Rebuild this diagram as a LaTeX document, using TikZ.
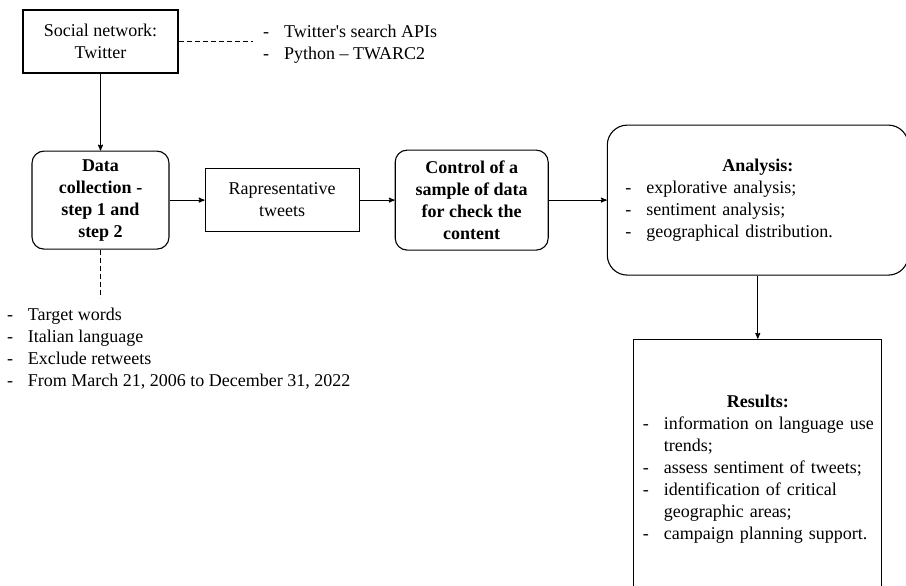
\documentclass[tikz,border=0pt]{standalone}
\usepackage{fontspec}
\setmainfont{Liberation Serif}
\usepackage{tikz}
\usetikzlibrary{positioning}
\usetikzlibrary{arrows}

\newcommand{\listdash}{\makebox[21pt][l]{-}}
\newcommand{\listskip}{\hspace*{21pt}}

\begin{document}
\begin{tikzpicture}[x=1pt,y=-1pt,->,>=stealth',auto,line width=1.1pt,
                    font=\fontsize{18}{22}\selectfont,
                    main node/.style={draw,align=center,inner sep=0pt},
                    round node/.style={main node,rounded corners=12pt,font=\fontsize{18}{22}\selectfont\bfseries},
                    list node/.style={align=left,inner sep=0pt},
                    link/.style={-,dash pattern=on 5pt off 3pt,shorten >=10pt}]

  \useasboundingbox (0,0) rectangle (906,586);

  \node[main node,minimum width=155pt,minimum height=63pt] (1) at (100.5,41.5) {Social network:\\Twitter};
  \node[round node,minimum width=137pt,minimum height=98pt] (2) [below=77pt of 1] {Data\\collection -\\step 1 and\\step 2};
  \node[main node,minimum width=154pt,minimum height=63pt] (3) [right=35pt of 2] {Rapresentative\\tweets};
  \node[round node,minimum width=153pt,minimum height=100pt] (4) [right=35pt of 3] {Control of a\\sample of data\\for check the\\content};
  \node[draw,rounded corners=20pt,align=left,text width=265pt,inner xsep=18pt,minimum height=150pt] (5) [right=58pt of 4]
    {\makebox[\linewidth]{\textbf{Analysis:}}\\
     \listdash explorative analysis;\\
     \listdash sentiment analysis;\\
     \listdash geographical distribution.};
  \node[draw,align=left,text width=230pt,inner xsep=9pt,minimum height=260pt] (6) [below=63pt of 5]
    {\makebox[\linewidth]{\textbf{Results:}}\\
     \listdash\mbox{information on language use}\\
     \listskip trends;\\
     \listdash\mbox{assess sentiment of tweets;}\\
     \listdash identification of critical\\
     \listskip geographic areas;\\
     \listdash\mbox{campaign planning support.}};

  % tools and filters
  \node[list node] (7) [right=84pt of 1,yshift=-3pt] {\listdash Twitter\textquotesingle s search APIs\\\listdash Python – TWARC2};
  \node[list node] (8) [below=58pt of 2.south west,anchor=north west,xshift=-25pt]
    {\listdash Target words\\
     \listdash Italian language\\
     \listdash Exclude retweets\\
     \listdash From March 21, 2006 to December 31, 2022};

  \path (1) edge (2)
        (2) edge (3)
        (3) edge (4)
        (4) edge (5)
        (5) edge (6);
  \path (1) edge[link] (1 -| 7.west)
        (2) edge[link] (2 |- 8.north);
\end{tikzpicture}
\end{document}
